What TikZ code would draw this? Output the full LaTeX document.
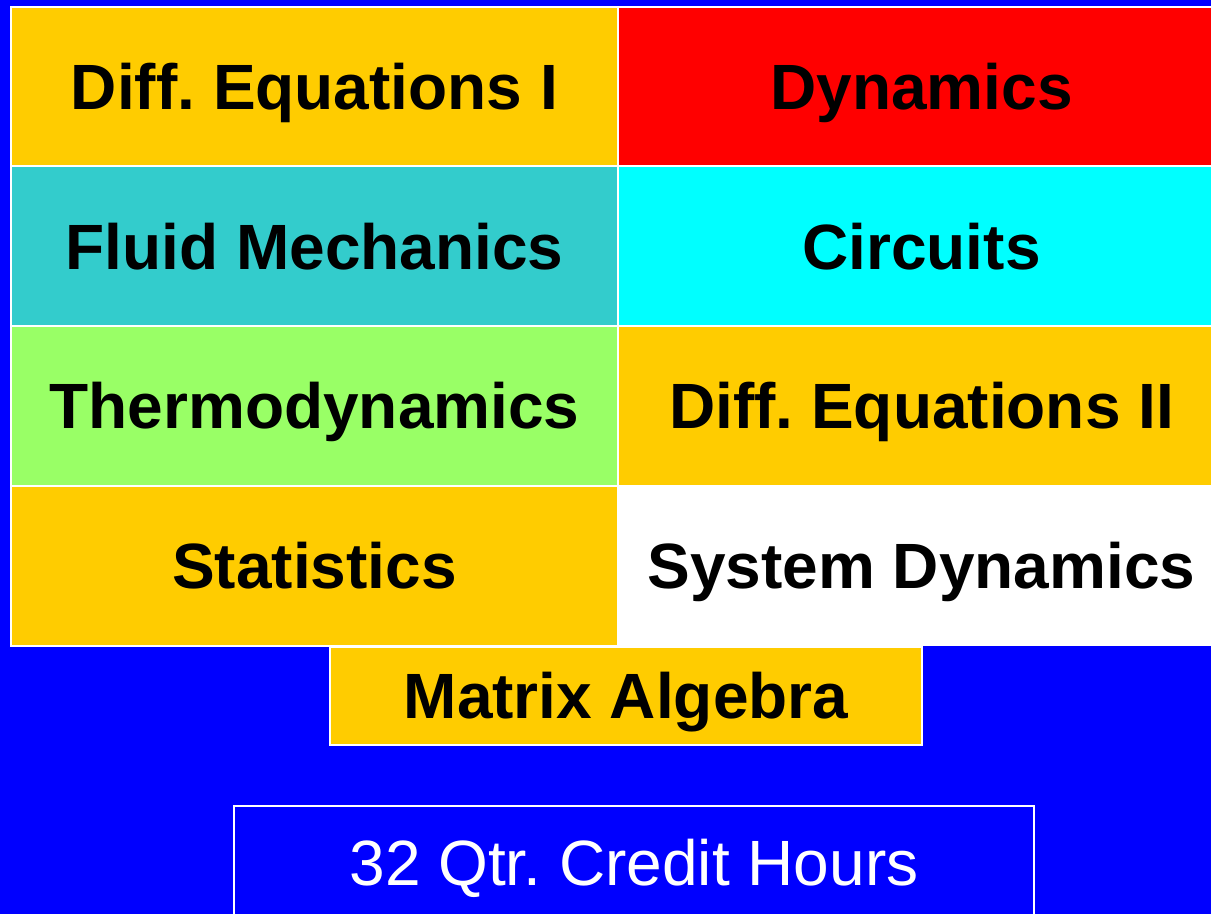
\documentclass[tikz,border=0pt]{standalone}
\usepackage{fontspec}
\setmainfont{Liberation Sans}
\usepackage{xcolor}
\definecolor{slideblue}{rgb}{0.00,0.00,1.00}
\definecolor{goldcell}{HTML}{FFCC00}
\definecolor{redcell}{HTML}{FF0000}
\definecolor{tealcell}{HTML}{33CCCC}
\definecolor{cyancell}{HTML}{00FFFF}
\definecolor{greencell}{HTML}{99FF66}
\usepackage{tikz}
\usetikzlibrary{positioning}
\frenchspacing
\tikzset{
  cell/.style={draw=white,line width=1.5pt,outer sep=0pt,inner sep=0pt,
    minimum width=455.25pt,minimum height=119.8pt,
    font=\fontsize{48}{50}\selectfont\bfseries,text=black,
    text height=34.4pt,text depth=0pt},
  wide/.style={cell,minimum width=444pt,minimum height=73.5pt},
  total/.style={cell,fill=slideblue,text=white,font=\fontsize{48}{50}\selectfont,
    minimum width=600pt,minimum height=85.5pt},
}

\begin{document}
\begin{tikzpicture}[x=0.75pt,y=-0.75pt]
        \clip (0,0) rectangle (1211,914);
        \fill[slideblue] (0,0) rectangle (1211,914);
        % course grid, two columns
        \node[cell,fill=goldcell] (diffone) at (314.5,86.5) {Diff. Equations I};
        \node[cell,fill=redcell,right=0pt of diffone] (dynamics) {Dynamics};
        \node[cell,fill=tealcell,below=0pt of diffone] (fluid) {Fluid Mechanics};
        \node[cell,fill=cyancell,right=0pt of fluid] (circuits) {Circuits};
        \node[cell,fill=greencell,below=0pt of fluid] (thermo) {Thermodynamics};
        \node[cell,fill=goldcell,right=0pt of thermo] (difftwo) {Diff. Equations II};
        \node[cell,fill=goldcell,below=0pt of thermo] (stats) {Statistics};
        \node[cell,fill=white,draw=none,right=0pt of stats] (sysdyn) {System Dynamics};
        % last course, under the grid
        \node[wide,fill=goldcell] (matrix) at (626,696) {Matrix Algebra};
        % total
        \node[total] (hours) at (634,863) {32 Qtr. Credit Hours};
      \end{tikzpicture}
\end{document}
